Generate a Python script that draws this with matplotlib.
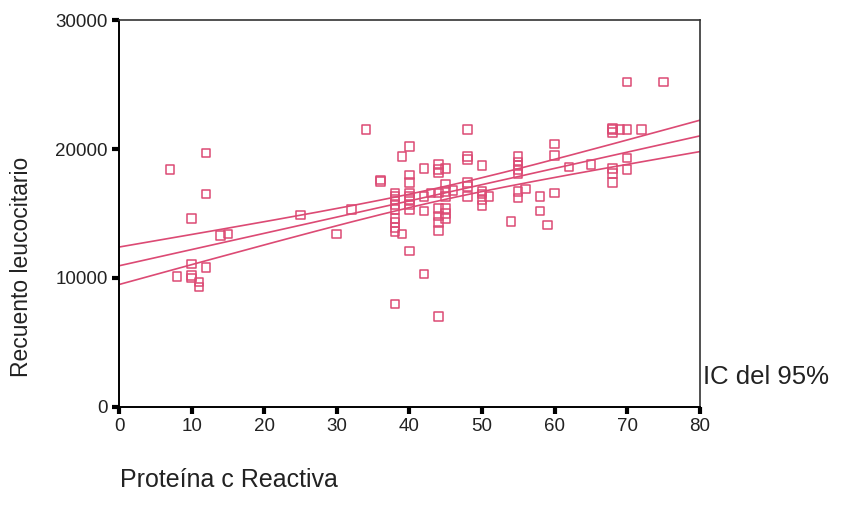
import numpy as np
import matplotlib
matplotlib.use("Agg")
import matplotlib.pyplot as plt

# Data: Proteína c Reactiva (x) vs Recuento leucocitario (y)
pcr = [7, 12, 12, 10, 14, 15, 10, 12, 8, 10, 10, 11, 11,
       25, 30, 32, 34, 36, 36,
       38, 38, 38, 38, 38, 38, 38, 38, 38, 38,
       39, 39,
       40, 40, 40, 40, 40, 40, 40, 40, 40,
       42, 42, 42, 42, 43,
       44, 44, 44, 44, 44, 44, 44, 44, 44,
       45, 45, 45, 45, 45, 45, 45, 46,
       48, 48, 48, 48, 48, 48,
       50, 50, 50, 50, 50, 51, 54,
       55, 55, 55, 55, 55, 55, 55, 56, 58, 58, 59,
       60, 60, 60, 62, 65,
       68, 68, 68, 68, 68, 68, 69,
       70, 70, 70, 70, 72, 75]
leucocitos = [18400, 19700, 16500, 14600, 13300, 13400, 11100, 10800, 10100, 10200, 10000, 9700, 9300,
              14900, 13400, 15300, 21500, 17600, 17500,
              16600, 16300, 16100, 15700, 15300, 14600, 14300, 13900, 13600, 8000,
              19400, 13400,
              20200, 18000, 17400, 16600, 16300, 16100, 15700, 15300, 12100,
              18500, 16300, 15200, 10300, 16600,
              18800, 18400, 18200, 16600, 15400, 14800, 14300, 13700, 7000,
              18500, 17300, 16700, 16300, 15400, 15000, 14600, 16800,
              21500, 19400, 19200, 17400, 17100, 16300,
              18700, 16700, 16500, 16100, 15600, 16300, 14400,
              19400, 19000, 18700, 18400, 18100, 16700, 16200, 16900, 16300, 15200, 14100,
              20400, 19500, 16600, 18600, 18800,
              21600, 21500, 21300, 18500, 18100, 17400, 21500,
              25200, 21500, 19300, 18400, 21500, 25200]

x_ticks = [0, 10, 20, 30, 40, 50, 60, 70, 80]
y_ticks = [0, 10000, 20000, 30000]

color = "#dc4a74"

x = np.array(pcr, dtype=float)
y = np.array(leucocitos, dtype=float)
n = len(x)
b, a = np.polyfit(x, y, 1)
resid = y - (a + b * x)
s = np.sqrt(np.sum(resid ** 2) / (n - 2))
xm = x.mean()
sxx = np.sum((x - xm) ** 2)
t = 1.984
xs = np.linspace(0, 80, 200)
yfit = a + b * xs
half = t * s * np.sqrt(1.0 / n + (xs - xm) ** 2 / sxx)

fig = plt.figure(figsize=(8.44, 5.09), dpi=100)
ax = fig.add_axes([0.141, 0.2004, 0.688, 0.7603])

ax.plot(xs, yfit, color=color, lw=1.2, zorder=2)
ax.plot(xs, yfit + half, color=color, lw=1.2, zorder=2)
ax.plot(xs, yfit - half, color=color, lw=1.2, zorder=2)
ax.scatter(x, y, marker="s", s=38, facecolors="none", edgecolors=color,
           linewidths=1.1, zorder=3, clip_on=False)

ax.set_xlim(0, 80)
ax.set_ylim(0, 30000)
ax.set_xticks(x_ticks)
ax.set_yticks(y_ticks)
font = "Liberation Sans"
ax.set_xticklabels([str(v) for v in x_ticks], fontsize=13.5, family=font, color="#222222")
ax.set_yticklabels([str(v) for v in y_ticks], fontsize=13.5, family=font, color="#222222")
ax.tick_params(axis="both", direction="out", length=5, width=3, color="black", pad=3)

for side in ["left", "bottom"]:
    ax.spines[side].set_linewidth(1.4)
    ax.spines[side].set_color("black")
for side in ["top", "right"]:
    ax.spines[side].set_linewidth(1.2)
    ax.spines[side].set_color("#333333")

fig.text(0.025, 0.475, "Recuento leucocitario", rotation=90, fontsize=16.5,
         family=font, color="#222222", ha="center", va="center")
fig.text(0.142, 0.057, "Proteína c Reactiva", fontsize=18, family=font,
         color="#222222", ha="left", va="center")
fig.text(0.833, 0.26, "IC del 95%", fontsize=18.5, family=font,
         color="#222222", ha="left", va="center")

fig.savefig("out.png", dpi=100)
